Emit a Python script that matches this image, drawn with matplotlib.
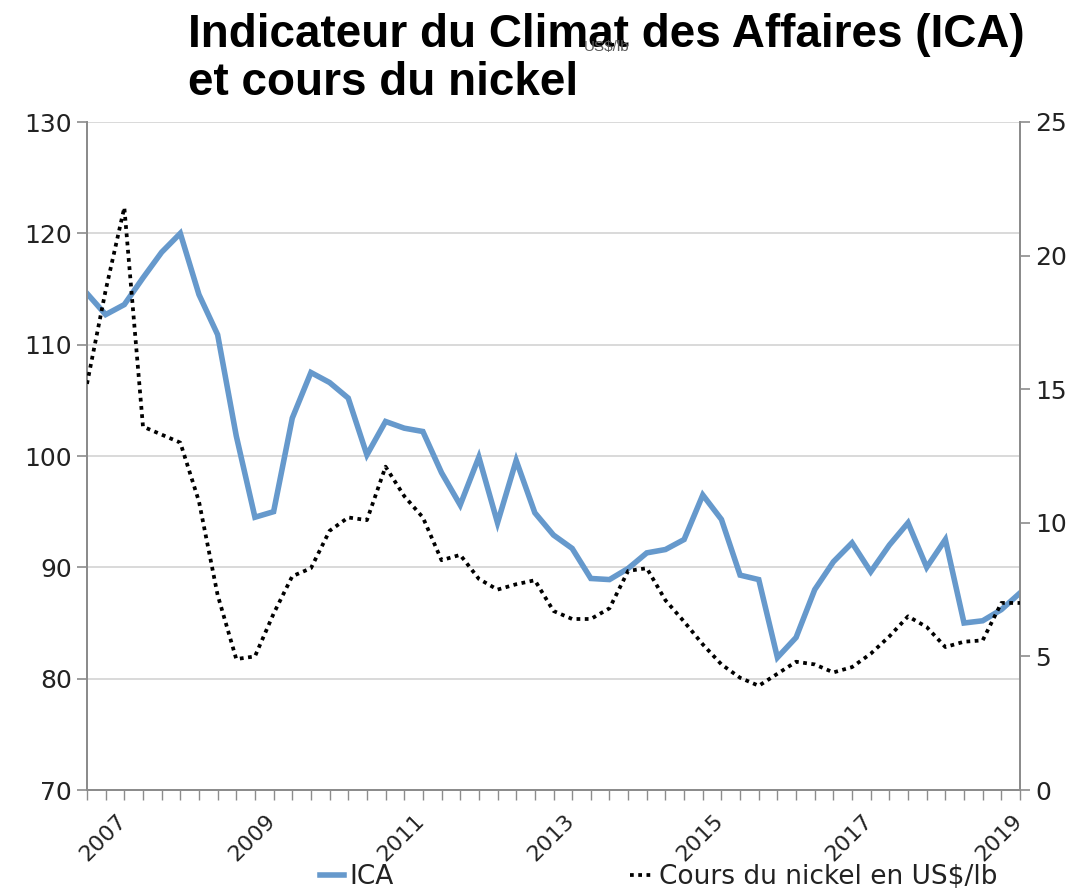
import matplotlib
matplotlib.use("Agg")
import matplotlib.pyplot as plt
import matplotlib.transforms as mtransforms
import numpy as np

# ---------------- data ----------------
ica = [114.6, 112.7, 113.6, 116.0, 118.3, 120.0, 114.5, 110.9, 101.8, 94.5,
       95.0, 103.4, 107.5, 106.6, 105.2, 100.1, 103.1, 102.5, 102.2, 98.5,
       95.6, 99.9, 94.0, 99.6, 94.9, 92.9, 91.7, 89.0, 88.9, 89.9,
       91.3, 91.6, 92.5, 96.5, 94.3, 89.3, 88.9, 81.9, 83.7, 88.0,
       90.5, 92.2, 89.6, 92.0, 94.0, 90.0, 92.5, 85.0, 85.2, 86.2, 87.7]

nickel = [15.2, 18.7, 21.8, 13.6, 13.3, 13.0, 10.8, 7.3, 4.9, 5.0,
          6.6, 8.0, 8.3, 9.7, 10.2, 10.1, 12.1, 11.0, 10.2, 8.6,
          8.8, 7.9, 7.5, 7.7, 7.85, 6.7, 6.4, 6.4, 6.8, 8.2,
          8.3, 7.1, 6.3, 5.45, 4.7, 4.2, 3.9, 4.35, 4.8, 4.7,
          4.4, 4.6, 5.1, 5.75, 6.5, 6.1, 5.35, 5.55, 5.6, 7.0, 7.0]

year_labels = ["2007", "2009", "2011", "2013", "2015", "2017", "2019"]
label_step = 8  # quarters between labels

left_ticks = [70, 80, 90, 100, 110, 120, 130]
right_ticks = [0, 5, 10, 15, 20, 25]

title_lines = ["Indicateur du Climat des Affaires (ICA)", "et cours du nickel"]
series_names = ["ICA", "Cours du nickel en US$/lb"]

# ---------------- figure ----------------
W, H = 1092, 891
fig = plt.figure(figsize=(W / 100, H / 100), dpi=100)
L, R, T, B = 87, 1020, 122, 790
ax = fig.add_axes([L / W, 1 - B / H, (R - L) / W, (B - T) / H])
ax2 = ax.twinx()

x = np.arange(len(ica))
xn = np.arange(len(nickel))

blue = "#6699cc"
ln1, = ax.plot(x, ica, color=blue, lw=4.0, solid_joinstyle="miter", zorder=3)
ln2, = ax2.plot(xn, nickel, color="black", lw=2.7, linestyle=(0, (1, 1.2)),
                dash_capstyle="butt", zorder=4)

ax.set_xlim(0, len(ica) - 1)
ax.set_ylim(70, 130)
ax2.set_ylim(0, 25)
ax.set_yticks(left_ticks)
ax2.set_yticks(right_ticks)

spine_col = "#8c8c8c"
grid_col = "#d9d9d9"
ax.yaxis.grid(True, color=grid_col, lw=1.4, zorder=0)
ax.set_axisbelow(True)

for a in (ax, ax2):
    a.spines["top"].set_visible(False)
    for s in ("left", "right", "bottom"):
        a.spines[s].set_color(spine_col)
        a.spines[s].set_linewidth(1.4)

ax.tick_params(axis="y", direction="out", length=7, width=1.2, color=spine_col,
               labelsize=18, labelcolor="#222222", pad=4)
ax2.tick_params(axis="y", direction="out", length=7, width=1.2, color=spine_col,
                labelsize=18, labelcolor="#222222", pad=4)

# x axis: tick at every quarter, labels every 2 years
ax.set_xticks(x, minor=True)
ax.tick_params(axis="x", which="minor", direction="out", length=7, width=1.0,
               color=spine_col)
ax.set_xticks(x[::label_step][:len(year_labels)])
ax.set_xticklabels(year_labels)
ax.tick_params(axis="x", which="major", direction="out", length=7, width=1.0,
               color=spine_col, labelsize=16, labelcolor="#222222", pad=8)
offset = mtransforms.ScaledTranslation(16 / 100, 0, fig.dpi_scale_trans)
for lab in ax.get_xticklabels():
    lab.set_rotation(45)
    lab.set_ha("center")
    lab.set_va("top")
    lab.set_transform(lab.get_transform() + offset)

# ---------------- titles ----------------
for i, line in enumerate(title_lines):
    fig.text(188 / W, 1 - (47 + 48 * i) / H, line, ha="left", va="baseline",
             fontsize=33, fontweight="bold",
             family=["Liberation Sans", "DejaVu Sans"], color="black")

fig.text(607 / W, 1 - 47 / H, "US$/lb", ha="center", va="center",
         fontsize=11, color="#595959",
         family=["Liberation Sans", "DejaVu Sans"])

# ---------------- legends ----------------
leg1 = fig.legend([ln1], [series_names[0]], loc="center left",
                  bbox_to_anchor=(320 / W, 1 - 877 / H), frameon=False,
                  handlelength=0.9, handletextpad=0.2,
                  borderpad=0, borderaxespad=0,
                  prop={"family": "DejaVu Sans", "size": 19})
leg2 = fig.legend([ln2], [series_names[1]], loc="center left",
                  bbox_to_anchor=(630 / W, 1 - 877 / H), frameon=False,
                  handlelength=0.9, handletextpad=0.2,
                  borderpad=0, borderaxespad=0,
                  prop={"family": "DejaVu Sans", "size": 19})
for t in leg1.get_texts() + leg2.get_texts():
    t.set_color("#222222")

fig.savefig("out.png", dpi=100)
